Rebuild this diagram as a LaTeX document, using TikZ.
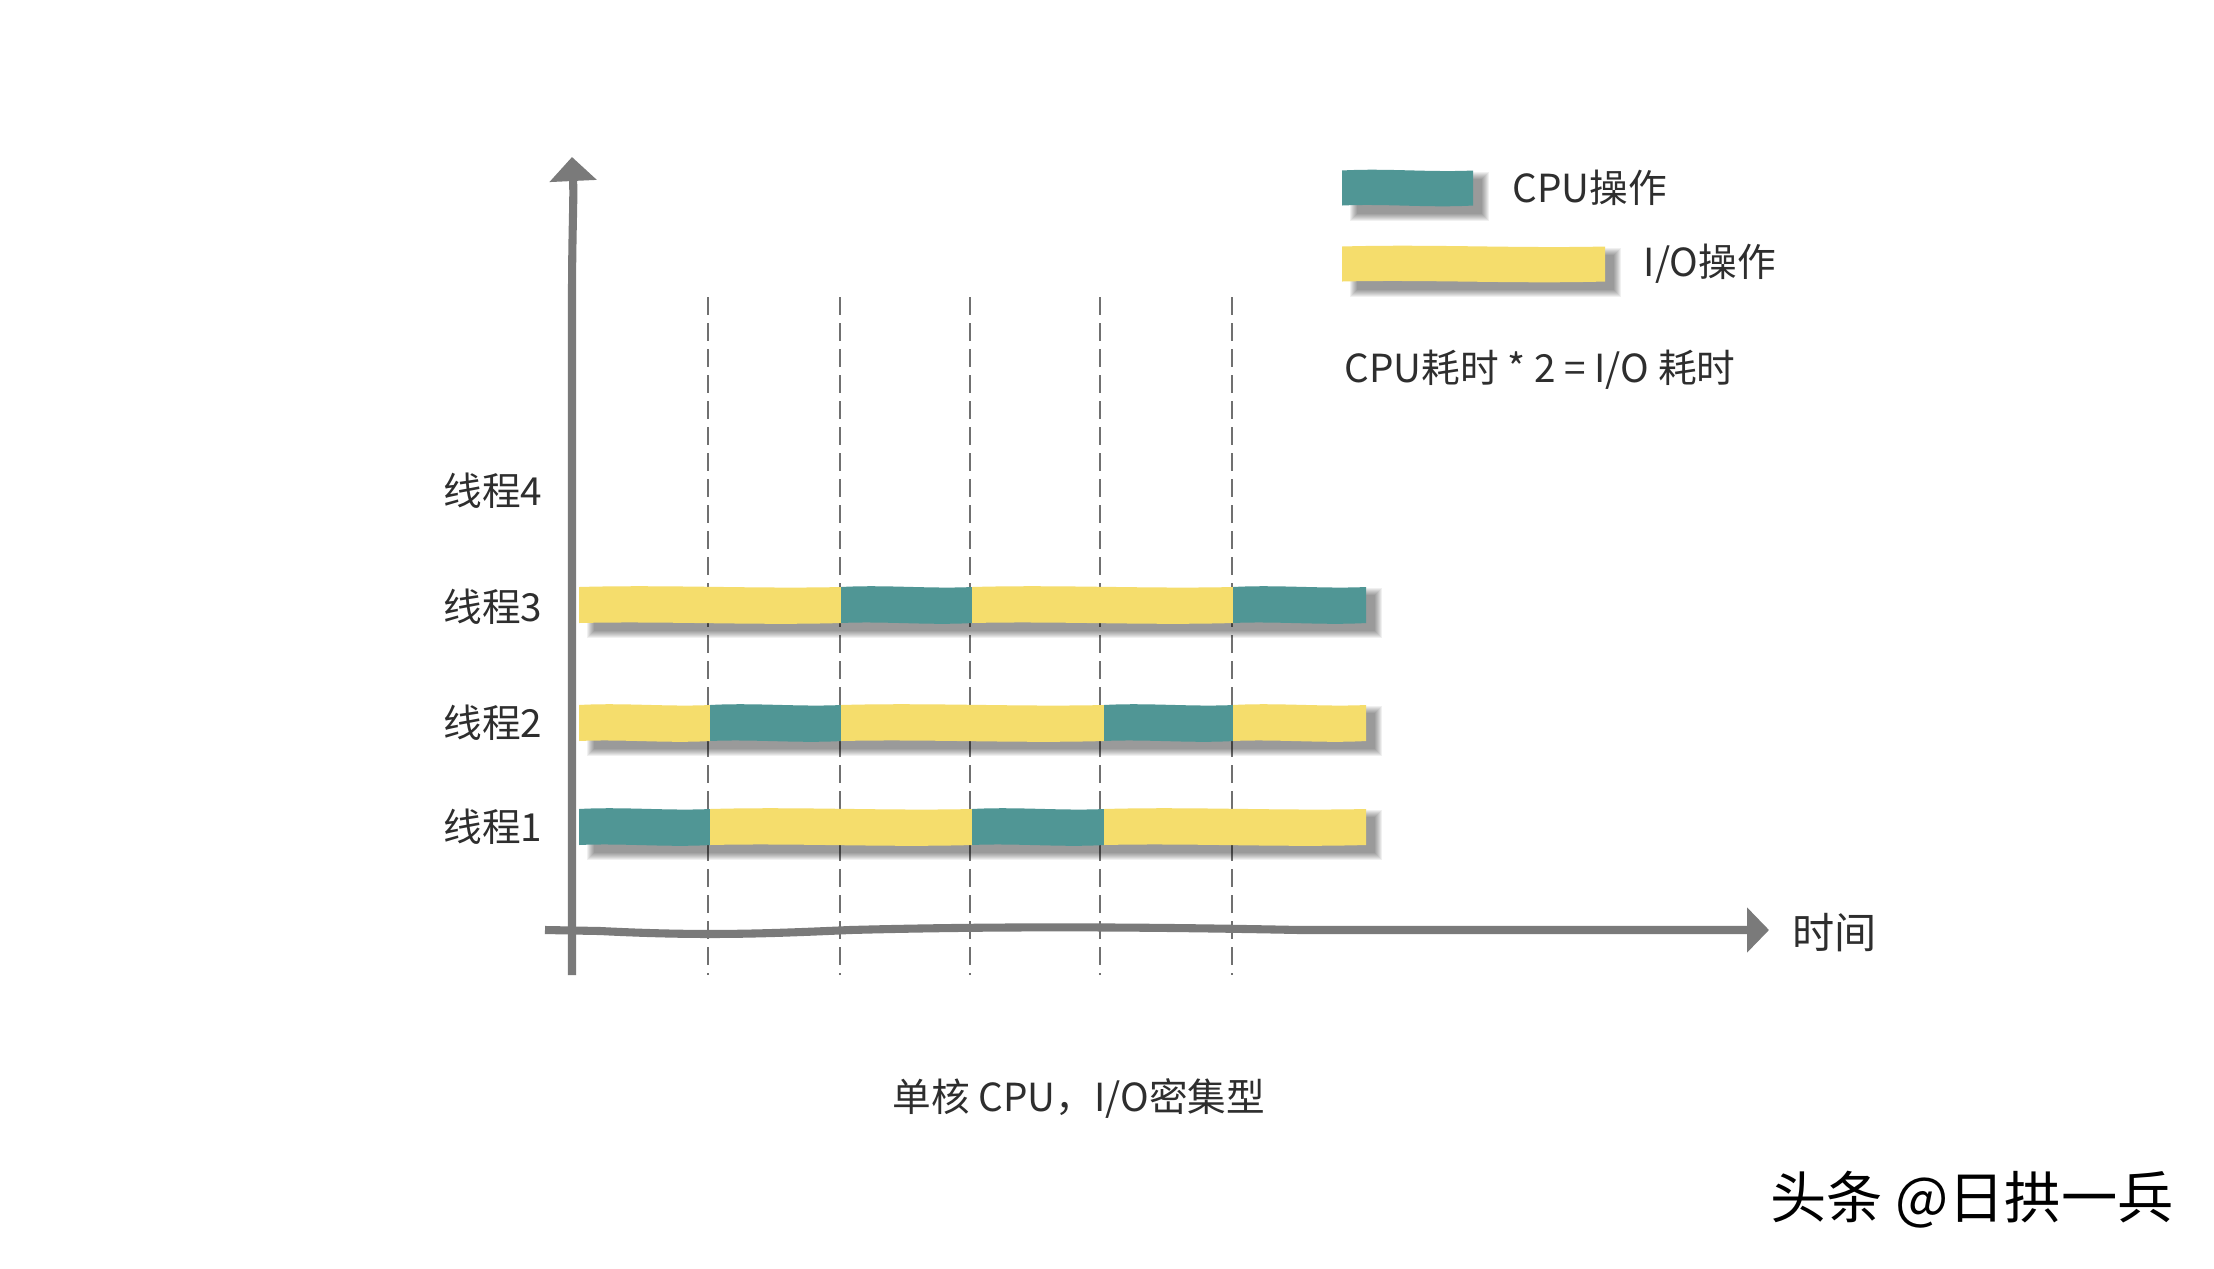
\documentclass[tikz,border=0pt]{standalone}
\usepackage{fontspec}
\setmainfont{Noto Sans CJK SC}
\usetikzlibrary{arrows.meta,calc}
\definecolor{cpuc}{HTML}{509695}
\definecolor{ioc}{HTML}{F5DD6C}
\definecolor{axc}{HTML}{7A7A7A}
\definecolor{gridc}{HTML}{707070}
\definecolor{txt}{HTML}{2E2E2E}
\tikzset{
  lbl/.style={text=txt, font=\fontsize{11pt}{13pt}\selectfont, inner sep=0pt},
  axisline/.style={draw=axc, line width=2.3pt},
  gridline/.style={draw=gridc, line width=0.45pt, dash pattern=on 1.8mm off 0.8mm},
}
% soft shadow: x1 x2 yc halfheight
\newcommand\softshadow[4]{%
  \foreach \k in {0,...,7}{%
    \fill[black, opacity=0.058] ({#1+15-\k},{#3-#4+8-\k}) rectangle ({#2+9+\k},{#3+#4+8+\k});
  }}
% wavy segment: x1 x2 yc halfheight color
\newcommand\seg[5]{%
  \fill[#5] (#1,{#3-#4}) .. controls ({#1+(#2-#1)/3},{#3-#4-2.5}) and ({#1+2*(#2-#1)/3},{#3-#4+2}) .. (#2,{#3-#4})
    -- (#2,{#3+#4}) .. controls ({#2-(#2-#1)/3},{#3+#4+2.5}) and ({#1+(#2-#1)/3},{#3+#4-2}) .. (#1,{#3+#4}) -- cycle;}
\begin{document}
\begin{tikzpicture}[x=0.1mm,y=-0.1mm]
\fill[white] (0,0) rectangle (2214,1268);
\useasboundingbox (0,0) rectangle (2214,1268);

% dashed time grid
\foreach \n/\x in {1/708,2/840,3/970,4/1100,5/1232}{
  \coordinate (d\n t) at (\x,297);
  \coordinate (d\n b) at (\x,975);
  \draw[gridline] (d\n t) -- (d\n b);
}

% shadows of the thread bars
\softshadow{579}{1366}{605}{18}
\softshadow{579}{1366}{723}{18}
\softshadow{579}{1366}{827}{18}

% thread 3
\seg{579}{841.5}{605}{18}{ioc}
\seg{841}{972.5}{605}{18}{cpuc}
\seg{972}{1233.5}{605}{18}{ioc}
\seg{1233}{1366}{605}{18}{cpuc}
% thread 2
\seg{579}{710.5}{723}{18}{ioc}
\seg{710}{841.5}{723}{18}{cpuc}
\seg{841}{1104.5}{723}{18}{ioc}
\seg{1104}{1233.5}{723}{18}{cpuc}
\seg{1233}{1366}{723}{18}{ioc}
% thread 1
\seg{579}{710.5}{827}{18}{cpuc}
\seg{710}{972.5}{827}{18}{ioc}
\seg{972}{1104.5}{827}{18}{cpuc}
\seg{1104}{1366}{827}{18}{ioc}

% axes
\coordinate (yb) at (572,975);
\coordinate (yt) at (572,157);
\coordinate (xl) at (545,930);
\coordinate (xr) at (1769,930);
\draw[axisline, -{Triangle[width=4.6mm,length=2.4mm]}] (yb) -- (572,300) .. controls (572,230) and (574,200) .. (yt);
\draw[axisline, -{Triangle[width=4.4mm,length=2.2mm]}] (xl) -- (600,931) .. controls (700,936) and (760,934) .. (850,930) .. controls (1000,926) and (1150,927) .. (1300,930) -- (xr);

% thread labels
\node[lbl] (t4) at (493,491) {线程4};
\node[lbl] (t3) at (493,607) {线程3};
\node[lbl] (t2) at (493,723) {线程2};
\node[lbl] (t1) at (493,827) {线程1};
\node[lbl, anchor=west, font=\fontsize{12pt}{14pt}\selectfont] (time) at (1792,933) {时间};

% legend
\softshadow{1342}{1473}{188}{17.5}
\seg{1342}{1473}{188}{17.5}{cpuc}
\softshadow{1342}{1605}{264}{17.5}
\seg{1342}{1605}{264}{17.5}{ioc}
\node[lbl, anchor=west] (lcpu) at (1512,188) {CPU操作};
\node[lbl, anchor=west] (lio) at (1643,264) {I/O操作};
\node[lbl, anchor=west] (rule) at (1344,370) {CPU耗时 * 2 = I/O 耗时};

% caption
\node[lbl] (cap) at (1079,1099) {单核 CPU，I/O密集型};
\node[inner sep=0pt, text=black, font=\fontsize{16pt}{18pt}\selectfont] (wm) at (1972,1200) {头条 @日拱一兵};
\end{tikzpicture}
\end{document}
